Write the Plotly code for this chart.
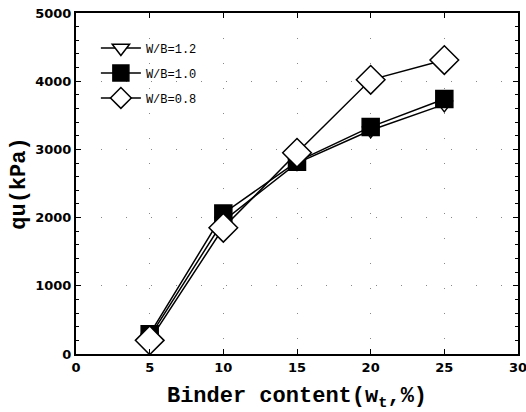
import plotly.graph_objects as go

binder = [5, 10, 15, 20, 25]
qu_wb12 = [250, 1950, 2800, 3280, 3660]
qu_wb10 = [290, 2060, 2820, 3330, 3740]
qu_wb08 = [200, 1850, 2950, 4020, 4310]

MONO = "Courier New, Liberation Mono, DejaVu Sans Mono, monospace"

fig = go.Figure()
series = [
    ("W/B=1.2", qu_wb12, "triangle-down", 15, "white"),
    ("W/B=1.0", qu_wb10, "square", 17, "black"),
    ("W/B=0.8", qu_wb08, "diamond", 22, "white"),
]
for name, ys, sym, sz, fill in series:
    fig.add_trace(go.Scatter(
        x=binder, y=ys, name=name, mode="lines+markers", legendgroup=name,
        line=dict(color="black", width=1.5),
        marker=dict(symbol=sym, size=sz, color=fill,
                    line=dict(color="black", width=1.5)),
    ))

axis_common = dict(
    showline=True, linecolor="black", linewidth=2, mirror="ticks",
    ticks="inside", tickcolor="black", ticklen=5, tickwidth=1,
    tickfont=dict(family="DejaVu Sans", size=13, color="black", weight="bold"),
    ticklabeloverflow="allow", automargin=False,
    showgrid=True, gridcolor="#888", griddash="1px,24px", gridwidth=1,
    zeroline=False,
)
fig.update_xaxes(range=[0, 30], dtick=5, **axis_common,
                 title=dict(text="Binder content(w<sub>t</sub>,%)",
                            font=dict(family=MONO, size=22, color="black", weight="bold"),
                            standoff=13))
fig.update_yaxes(range=[0, 5000], dtick=1000, **axis_common,
                 minor=dict(dtick=200, ticks="inside", ticklen=3, tickcolor="black", showgrid=False),
                 title=dict(text="qu(kPa)",
                            font=dict(family=MONO, size=22, color="black", weight="bold"),
                            standoff=4))

fig.update_layout(
    width=526, height=412,
    margin=dict(l=76, r=8, t=13, b=58),
    plot_bgcolor="white", paper_bgcolor="white",
    legend=dict(x=0.045, y=0.94, xanchor="left", yanchor="top",
                bgcolor="rgba(0,0,0,0)", itemwidth=40, tracegroupgap=6,
                font=dict(family=MONO, size=12, color="black")),
    showlegend=True,
)
fig.write_html("out.html", config={"displayModeBar": False},
               post_script="document.body.style.margin='0';document.body.style.overflow='hidden';")
